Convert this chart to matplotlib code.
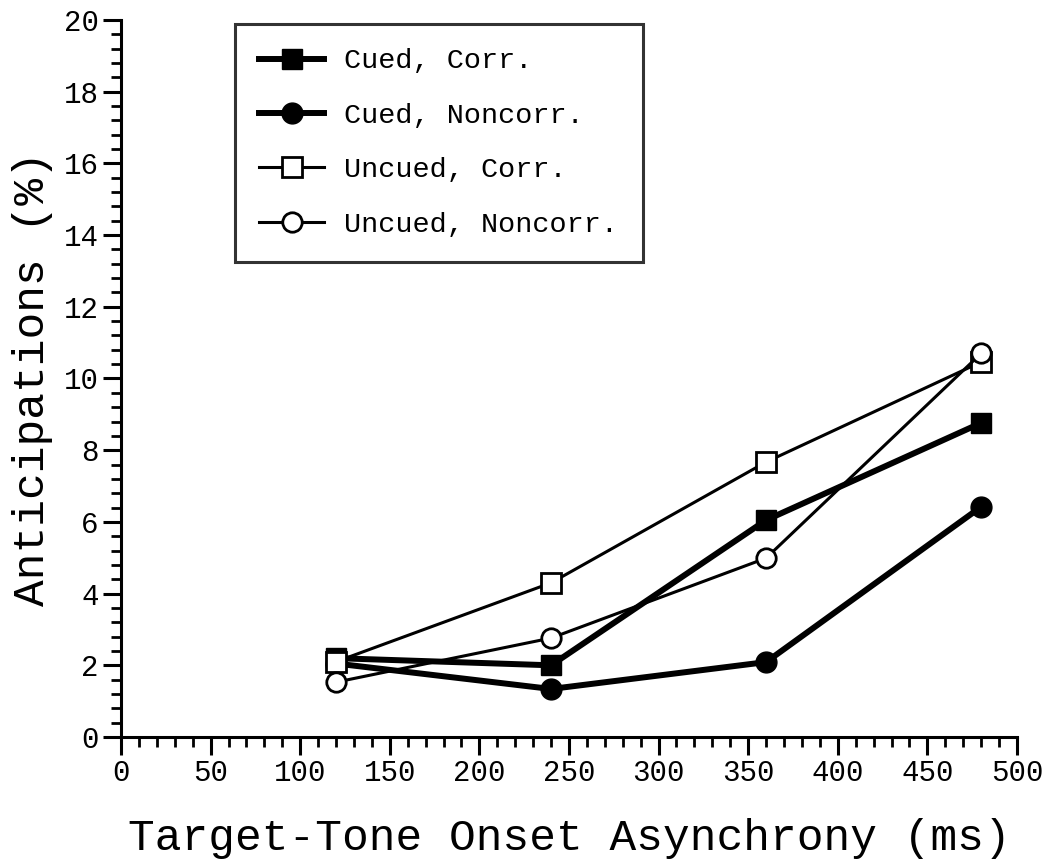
import matplotlib
matplotlib.use("Agg")
import matplotlib.pyplot as plt
from matplotlib.ticker import MultipleLocator

plt.rcParams['font.family'] = ['Liberation Mono', 'DejaVu Sans Mono']

# stimulus onset asynchrony (ms)
soa = [120, 240, 360, 480]

# anticipation rates (%)
cued_corr = [2.2, 2.0, 6.05, 8.76]
cued_noncorr = [2.05, 1.34, 2.09, 6.42]
uncued_corr = [2.1, 4.3, 7.67, 10.46]
uncued_noncorr = [1.53, 2.76, 4.99, 10.7]

labels = ['Cued, Corr.', 'Cued, Noncorr.', 'Uncued, Corr.', 'Uncued, Noncorr.']

fig = plt.figure(figsize=(10.44, 8.68), dpi=100)
ax = fig.add_axes([0.1159, 0.1509, 0.8582, 0.8261])

ax.plot(soa, cued_corr, color='black', lw=4.3, marker='s', ms=15,
        mfc='black', mec='black', label=labels[0], zorder=3)
ax.plot(soa, cued_noncorr, color='black', lw=4.3, marker='o', ms=15,
        mfc='black', mec='black', label=labels[1], zorder=3)
ax.plot(soa, uncued_corr, color='black', lw=2.2, marker='s', ms=14,
        mfc='white', mec='black', mew=2, label=labels[2], zorder=4)
ax.plot(soa, uncued_noncorr, color='black', lw=2.2, marker='o', ms=14,
        mfc='white', mec='black', mew=2, label=labels[3], zorder=5)

ax.set_xlim(0, 500)
ax.set_ylim(0, 20)
ax.xaxis.set_major_locator(MultipleLocator(50))
ax.xaxis.set_minor_locator(MultipleLocator(10))
ax.yaxis.set_major_locator(MultipleLocator(2))
ax.yaxis.set_minor_locator(MultipleLocator(0.4))

for side in ['top', 'right']:
    ax.spines[side].set_visible(False)
for side in ['left', 'bottom']:
    ax.spines[side].set_linewidth(2.2)

ax.tick_params(which='major', direction='out', length=13, width=2.2,
               labelsize=21, pad=3)
ax.tick_params(which='minor', direction='out', length=7, width=2)

ax.set_xlabel('Target-Tone Onset Asynchrony (ms)', fontsize=32, labelpad=22)
ax.set_ylabel('Anticipations (%)', fontsize=32, labelpad=8)

leg = ax.legend(loc='upper left', bbox_to_anchor=(0.127, 0.994), fontsize=20.5,
                frameon=True, fancybox=False, edgecolor='black',
                handlelength=2.3, labelspacing=1.0, borderpad=0.85,
                handletextpad=0.7, borderaxespad=0)
leg.get_frame().set_linewidth(2.2)

fig.savefig('out.png', dpi=100)
